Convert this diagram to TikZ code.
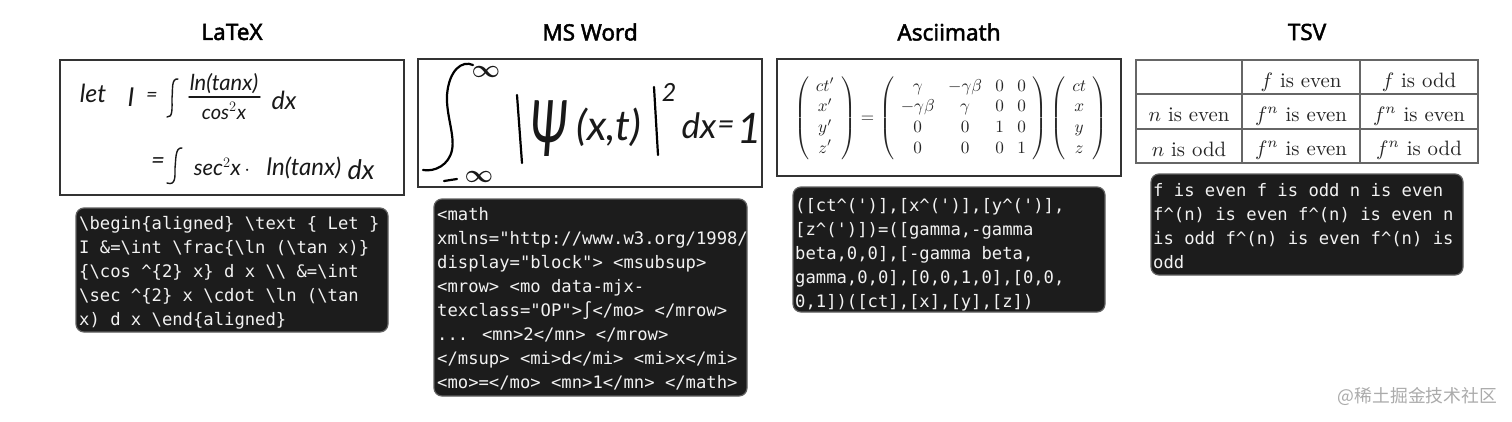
\documentclass[tikz,border=0pt]{standalone}
\usepackage{amsmath}
\usepackage{fontspec}
\newfontfamily\titlefont[FakeBold=2]{Noto Sans}
\newfontfamily\codefont{DejaVu Sans Mono}
\newfontfamily\handfont{Lato}
\newfontfamily\cjkfont{Noto Sans CJK SC}
\newcommand{\bs}{\textbackslash}
\newcommand{\crt}{\textasciicircum}
\newcommand{\hw}[1]{\fontsize{#1}{#1}\selectfont\handfont\itshape}
\tikzset{
  titlelabel/.style={font=\titlefont\fontsize{22.5}{25}\selectfont,text=black,inner sep=0pt},
  frame/.style={draw=black!80,line width=1.8pt,fill=white},
  codebox/.style={draw=black!62,line width=1.2pt,fill=black!89,rounded corners=8pt},
  codetext/.style={anchor=north west,inner sep=0pt,align=left,text=white!95!black,font=\codefont\fontsize{17.2}{24}\selectfont},
  tabline/.style={draw=black!60,line width=1.2pt},
  pen/.style={draw=black!90,line width=1.4pt,line cap=round},
  heavypen/.style={draw=black,line width=2.2pt,line cap=round},
  hand/.style={inner sep=0pt,text=black!90},
  mathtext/.style={inner sep=0pt,text=black!85,scale=2.08},
}
\newcommand{\fst}{\rule{0pt}{18pt}}
\begin{document}
\begin{tikzpicture}[x=1pt,y=-1pt]
\useasboundingbox (0,0) rectangle (1512,421);
\fill[white] (0,0) rectangle (1512,421);
% titles
\node[titlelabel] (t1) at (232,32) {LaTeX};
\node[titlelabel] (t2) at (590,32) {MS Word};
\node[titlelabel] (t3) at (949,32) {Asciimath};
\node[titlelabel] (t4) at (1307,32) {TSV};
% frames
\draw[frame] (60,60) rectangle (404,195);
\draw[frame] (418,59) rectangle (762,187);
\draw[frame] (777,59) rectangle (1121,176);
% LaTeX handwriting
\node[hand,font=\hw{25}] (a1) at (93,93) {let};
\node[hand,font=\hw{26}] (a2) at (131,97) {I};
\node[hand,font=\hw{20}] (a3) at (152,97) {=};
\draw[pen] (178,79) .. controls (171,78) and (173,90) .. (172,98) .. controls (172,108) and (173,118) .. (167,117);
\node[hand,font=\hw{22}] (a4) at (224,84) {ln(tanx)};
\draw[pen] (189,97) -- (260,97);
\node[hand,font=\hw{20}] (a5) at (224,111) {cos$^2$x};
\node[hand,font=\hw{25}] (a6) at (284,100) {dx};
\node[hand,font=\hw{24}] (a7) at (158,163) {=};
\draw[pen] (182,148) .. controls (175,147) and (176,160) .. (175,168) .. controls (175,176) and (176,186) .. (167,183);
\node[hand,font=\hw{22}] (a8) at (222,167) {sec$^2$x\,$\cdot$};
\node[hand,font=\hw{24}] (a9) at (304,168) {ln(tanx)};
\node[hand,font=\hw{27}] (a10) at (361,170) {dx};
% MS Word handwriting
\draw[heavypen] (473,65) .. controls (462,60) and (449,70) .. (447,95) .. controls (446,115) and (455,135) .. (452,150) .. controls (449,165) and (435,172) .. (423,170);
\node[hand,font=\hw{28}] (b1) at (486,72) {$\boldsymbol{\infty}$};
\draw[heavypen] (444,181) -- (457,179);
\node[hand,font=\hw{28}] (b2) at (479,177) {$\boldsymbol{\infty}$};
\draw[heavypen] (517,95) -- (522,163);
\node[hand,xscale=.62,font=\hw{78}] (b3) at (549,129) {Ψ};
\node[hand,font=\hw{42}] (b4) at (609,127) {(x,t)};
\draw[heavypen] (654,87) -- (658,155);
\node[hand,font=\hw{25}] (b5) at (669,92) {2};
\node[hand,font=\hw{35}] (b6) at (699,126) {dx};
\node[hand,font=\hw{30}] (b7) at (726,128) {=};
\node[hand,font=\hw{42}] (b8) at (750,128) {1};
% Asciimath picture
\node[inner sep=0pt,text=black!85,scale=1.72] (m) at (951,118) {\arraycolsep=3.9pt $\left(\begin{array}{c} ct'\\ x'\\ y'\\ z'\end{array}\right)=\left(\begin{array}{cccc}\gamma&-\gamma\beta&0&0\\-\gamma\beta&\gamma&0&0\\0&0&1&0\\0&0&0&1\end{array}\right)\left(\begin{array}{c}ct\\x\\y\\z\end{array}\right)$};
% TSV table
\draw[tabline] (1136,60) rectangle (1478,163);
\draw[tabline] (1242,60) -- (1242,163) (1360,60) -- (1360,163) (1136,94) -- (1478,94) (1136,129) -- (1478,129);
\node[mathtext] (c1) at (1301,82) {$f$ is even};
\node[mathtext] (c2) at (1419,82) {$f$ is odd};
\node[mathtext] (c3) at (1189,115) {$n$ is even};
\node[mathtext] (c4) at (1301,116) {$f^n$ is even};
\node[mathtext] (c5) at (1419,116) {$f^n$ is even};
\node[mathtext] (c6) at (1189,149) {$n$ is odd};
\node[mathtext] (c7) at (1301,150) {$f^n$ is even};
\node[mathtext] (c8) at (1419,150) {$f^n$ is odd};
% code boxes
\draw[codebox] (76,208) rectangle (388,332);
\node[codetext] (d1) at (79,211) {\fst\bs begin\{aligned\} \bs text \{ Let \}\\
I \&=\bs int \bs frac\{\bs ln (\bs tan x)\}\\
\{\bs cos \crt\{2\} x\} d x \bs\bs{} \&=\bs int\\
\bs sec \crt\{2\} x \bs cdot \bs ln (\bs tan\\
x) d x \bs end\{aligned\}};
\draw[codebox] (434,199) rectangle (747,396);
\begin{scope}
\clip[rounded corners=8pt] (434,199) rectangle (747,396);
\node[codetext] (d2) at (437,202) {\fst<math\\
xmlns="http://www.w3.org/1998/\\
display="block"> <msubsup>\\
<mrow> <mo data-mjx-\\
texclass="OP">∫</mo> </mrow>\\
... <mn>2</mn> </mrow>\\
</msup> <mi>d</mi> <mi>x</mi>\\
<mo>=</mo> <mn>1</mn> </math>};
\end{scope}
\draw[codebox] (793,187) rectangle (1105,312);
\node[codetext] (d3) at (795,193) {\fst([ct\crt(')],[x\crt(')],[y\crt(')],\\
{}[z\crt(')])=([gamma,-gamma\\
beta,0,0],[-gamma beta,\\
gamma,0,0],[0,0,1,0],[0,0,\\
0,1])([ct],[x],[y],[z])};
\draw[codebox] (1151,174) rectangle (1463,275);
\node[codetext] (d4) at (1153,178) {\fst f is even f is odd n is even\\
f\crt(n) is even f\crt(n) is even n\\
is odd f\crt(n) is even f\crt(n) is\\
odd};
% watermark
\node[inner sep=0pt,text=black!33,font=\cjkfont\fontsize{17.8}{20}\selectfont] (w) at (1417.5,396) {@稀土掘金技术社区};
\end{tikzpicture}
\end{document}
